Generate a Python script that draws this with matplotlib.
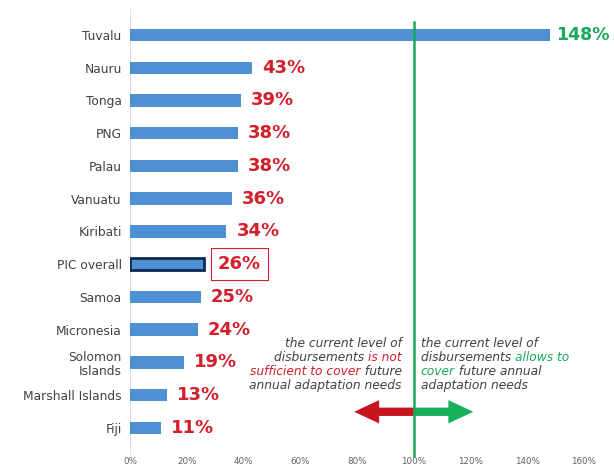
import matplotlib
matplotlib.use("Agg")
import matplotlib.pyplot as plt
from matplotlib.ticker import PercentFormatter

plt.rcParams["font.family"] = ["DejaVu Sans"]

# disbursements as share of annual adaptation needs, top to bottom
countries = ["Tuvalu", "Nauru", "Tonga", "PNG", "Palau", "Vanuatu", "Kiribati",
             "PIC overall", "Samoa", "Micronesia", "Solomon\nIslands",
             "Marshall Islands", "Fiji"]
shares = [148, 43, 39, 38, 38, 36, 34, 26, 25, 24, 19, 13, 11]
highlight = "PIC overall"
threshold = 100

BAR = "#4f8fd4"
RED = "#d21f2b"
GREEN = "#1aa85a"
GREY_TXT = "#404040"

fig, ax = plt.subplots(figsize=(6.14, 4.67), dpi=100)
fig.subplots_adjust(left=130 / 614, right=584 / 614, bottom=1 - 454 / 467, top=1 - 8.8 / 467)

n = len(countries)
ys = [n - 1 - i for i in range(n)]
for y, name, v in zip(ys, countries, shares):
    if name == highlight:
        ax.barh(y, v, height=0.38, color=BAR, edgecolor="#0d2a52", linewidth=2.0, zorder=3)
    else:
        ax.barh(y, v, height=0.38, color=BAR, linewidth=0, zorder=3)

for y, name, v in zip(ys, countries, shares):
    if name == highlight:
        ax.text(v + 5, y, f"{v}%", va="center", ha="left", fontsize=13, fontweight="bold",
                color=RED, bbox=dict(boxstyle="square,pad=0.4", fc="white", ec=RED, lw=0.8))
    elif v >= threshold:
        ax.text(v + 2, y, f"{v}%", va="center", ha="left", fontsize=12.5, fontweight="bold",
                color=GREEN)
    else:
        ax.text(v + 3.5, y, f"{v}%", va="center", ha="left", fontsize=13, fontweight="bold",
                color=RED)

ax.set_xlim(0, 160)
ax.set_ylim(-0.8, n - 1 + 0.8)
ax.set_xticks(range(0, 161, 20))
ax.xaxis.set_major_formatter(PercentFormatter(decimals=0))
ax.set_yticks(ys)
ax.set_yticklabels(countries, fontsize=8.8, color=GREY_TXT, linespacing=1.1)
ax.tick_params(axis="x", labelsize=6.3, labelcolor="#606060", length=0, pad=2)
ax.tick_params(axis="y", length=0, pad=6)
for s in ("top", "right", "bottom"):
    ax.spines[s].set_visible(False)
ax.spines["left"].set_color("#d8dde6")
ax.spines["left"].set_linewidth(0.8)

# 100% coverage line
ax.plot([threshold, threshold], [-0.85, n - 1 + 0.4], color=GREEN, lw=1.8, zorder=4, clip_on=False)

# explanatory notes on both sides of the line
line_y = [2.60, 2.17, 1.74, 1.31]
kw = dict(fontsize=8.8, style="italic", va="bottom")


def seg_line(x, y, parts, ha):
    """Draw a line made of (text, colour) parts, anchored left or right at x."""
    if ha == "left":
        prev = ax.text(x, y, parts[0][0], color=parts[0][1], ha="left", **kw)
        for t, c in parts[1:]:
            prev = ax.annotate(t, xy=(1, 0), xycoords=prev, ha="left", color=c, **kw)
    else:
        prev = ax.text(x, y, parts[-1][0], color=parts[-1][1], ha="right", **kw)
        for t, c in reversed(parts[:-1]):
            prev = ax.annotate(t, xy=(0, 0), xycoords=prev, ha="right", color=c, **kw)


left_note = [
    [("the current level of", GREY_TXT)],
    [("disbursements ", GREY_TXT), ("is not", RED)],
    [("sufficient to cover", RED), (" future", GREY_TXT)],
    [("annual adaptation needs", GREY_TXT)],
]
right_note = [
    [("the current level of", GREY_TXT)],
    [("disbursements ", GREY_TXT), ("allows to", GREEN)],
    [("cover", GREEN), (" future annual", GREY_TXT)],
    [("adaptation needs", GREY_TXT)],
]
for y, parts in zip(line_y, left_note):
    seg_line(95.8, y - 0.22, parts, "right")
for y, parts in zip(line_y, right_note):
    seg_line(102.5, y - 0.22, parts, "left")

arrow_style = "simple,head_length=1.5,head_width=1.4,tail_width=0.5"
ax.annotate("", xy=(79, 0.49), xytext=(100, 0.49),
            arrowprops=dict(arrowstyle=arrow_style, color="#c8141e", lw=0,
                            shrinkA=0, shrinkB=0, mutation_scale=12), zorder=3)
ax.annotate("", xy=(121, 0.49), xytext=(100, 0.49),
            arrowprops=dict(arrowstyle=arrow_style, color="#18b05a", lw=0,
                            shrinkA=0, shrinkB=0, mutation_scale=12), zorder=3)

fig.savefig("out.png", dpi=100, facecolor="white")
